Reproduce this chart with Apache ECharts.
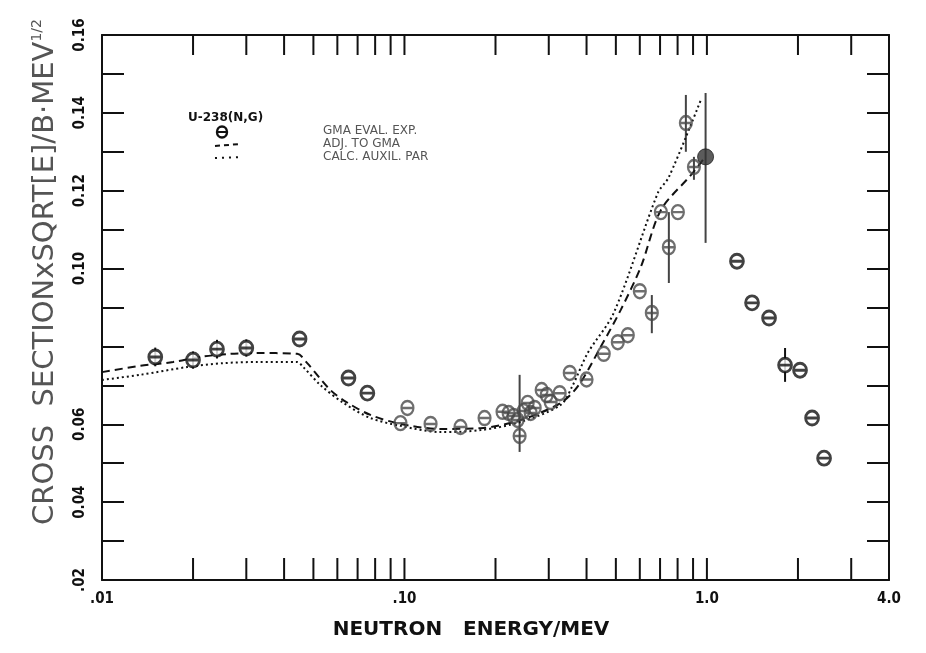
<!DOCTYPE html>
<html><head><meta charset="utf-8">
<script src="https://cdn.jsdelivr.net/npm/echarts@6/dist/echarts.min.js"></script>
<style>html,body{margin:0;padding:0;background:#fff}#c{width:926px;height:653px}</style>
</head><body><div id="c"></div>
<script>
// ---------------- data ----------------
const xMin = 0.01, xMax = 4.0, yMin = 0.02, yMax = 0.16;
const xTickValues = [0.02,0.03,0.04,0.05,0.06,0.07,0.08,0.09,0.10,0.2,0.3,0.4,0.5,0.6,0.7,0.8,0.9,1.0,2.0,3.0];
const xTickLabels = {'0.01':'.01','0.1':'.10','1':'1.0','4':'4.0'};
const yTickLabels = {2:'.02',4:'0.04',6:'0.06',10:'0.10',12:'0.12',14:'0.14',16:'0.16'};

// GMA evaluated experimental points (black, outer regions)
const expBlackE = [0.015,0.020,0.024,0.030,0.045,0.0653,0.0754,1.257,1.41,1.605,1.813,2.032,2.227,2.44];
const expBlackV = [0.0773,0.0765,0.0793,0.0796,0.0819,0.0719,0.0680,0.1019,0.0912,0.0873,0.0752,0.0739,0.0616,0.0513];
// GMA evaluated experimental points (grey, central region)
const expGreyE = [0.097,0.1023,0.122,0.1532,0.184,0.211,0.221,0.2296,0.2367,0.2403,0.2477,0.2555,0.2614,0.2695,0.2842,0.2953,0.3044,0.326,0.352,0.400,0.456,0.5074,0.5476,0.600,0.6575,0.7044,0.7485,0.8017,0.852,0.906];
const expGreyV = [0.0603,0.0642,0.0601,0.0593,0.0616,0.0632,0.0629,0.0621,0.0611,0.0570,0.0634,0.0655,0.0629,0.0642,0.0688,0.0675,0.0657,0.0680,0.0732,0.0715,0.0781,0.0811,0.0829,0.0942,0.0886,0.1145,0.1055,0.1145,0.1374,0.1261];
// filled point near 1 MeV
const expFilledE = [0.99];
const expFilledV = [0.1287];
// error bars
const errE  = [0.015,0.020,0.024,0.030,0.2403,0.6575,0.7485,0.852,0.906,0.99,1.813];
const errLo = [0.0749,0.0743,0.0769,0.0774,0.0529,0.0834,0.0963,0.1300,0.1228,0.1066,0.0709];
const errHi = [0.0797,0.0787,0.0817,0.0818,0.0727,0.0932,0.1145,0.1446,0.1287,0.1451,0.0796];
// ADJ. TO GMA (dashed)
const adjE = [0.01,0.01336,0.01718,0.0211,0.0265,0.0326,0.0442,0.0477,0.0569,0.0643,0.0772,0.097,0.1316,0.1786,0.242,0.3286,0.377,0.4457,0.519,0.6046,0.7041,0.885,0.97];
const adjV = [0.0734,0.0750,0.0760,0.0773,0.0781,0.0783,0.0781,0.0757,0.0688,0.0657,0.0624,0.0601,0.0588,0.0590,0.0611,0.0655,0.0701,0.0799,0.0894,0.1004,0.1150,0.1240,0.1279];
// CALC. AUXIL. PAR (dotted)
const calcE = [0.01,0.01336,0.0191,0.0252,0.0326,0.0442,0.0463,0.0527,0.0628,0.0772,0.097,0.1316,0.1786,0.242,0.3286,0.36,0.4036,0.492,0.688,0.7485,0.955];
const calcV = [0.0714,0.0727,0.0747,0.0757,0.0760,0.0760,0.0747,0.0701,0.0655,0.0616,0.0596,0.0580,0.0585,0.0606,0.0650,0.0700,0.0783,0.0886,0.1194,0.1235,0.1433];

// ---------------- chart ----------------
const zip = (a, b) => a.map((v, i) => [v, b[i]]);
const INK = '#111';
const NARROW = "'Liberation Sans Narrow','DejaVu Sans Condensed',sans-serif";
const WIDE = "'DejaVu Sans',sans-serif";
const thetaPath = 'path://M0,6.5A5,6.5 0 1,1 10,6.5A5,6.5 0 1,1 0,6.5ZM0,6.5L10,6.5';

const chart = echarts.init(document.getElementById('c'), null, {renderer: 'canvas'});

const axisBaseX = {
  type: 'log', logBase: 10, min: xMin, max: xMax,
  axisLine: {show: true, lineStyle: {color: INK, width: 2}},
  axisTick: {show: false}, splitLine: {show: false}, minorTick: {show: false}
};
const axisBaseY = {
  type: 'value', min: yMin, max: yMax, interval: 0.01,
  axisLine: {show: true, lineStyle: {color: INK, width: 2}},
  axisTick: {show: true, inside: true, length: 22, lineStyle: {color: INK, width: 2}},
  splitLine: {show: false}
};

const option = {
  backgroundColor: '#fff',
  animation: false,
  grid: {left: 102, right: 37, top: 35, bottom: 73, containLabel: false},
  xAxis: [
    Object.assign({}, axisBaseX, {
      position: 'bottom',
      axisLabel: {
        show: true, showMinLabel: true, showMaxLabel: true, margin: 12,
        color: INK, fontSize: 15, fontWeight: 'bold', fontFamily: NARROW,
        formatter: v => {
          for (const k in xTickLabels) { if (Math.abs(v - Number(k)) / Number(k) < 1e-6) return xTickLabels[k]; }
          return '';
        }
      }
    }),
    Object.assign({}, axisBaseX, {position: 'top', axisLabel: {show: false}})
  ],
  yAxis: [
    Object.assign({}, axisBaseY, {
      position: 'left',
      axisLabel: {
        show: true, rotate: 90, margin: 14, color: INK, fontSize: 15, fontWeight: 'bold', fontFamily: NARROW,
        formatter: v => yTickLabels[Math.round(v * 100)] || ''
      }
    }),
    Object.assign({}, axisBaseY, {position: 'right', axisLabel: {show: false}})
  ],
  visualMap: [{
    type: 'piecewise', show: false, dimension: 0, seriesIndex: [1, 2],
    pieces: [
      {lt: 0.058, color: '#111'},
      {gte: 0.058, lt: 0.37, color: '#8a8a8a'},
      {gte: 0.37, color: '#555'}
    ]
  }],
  series: [
    { // x-axis ticks (top and bottom), log-spaced
      type: 'custom', silent: true, clip: false, z: 5,
      data: xTickValues.map(v => [v, yMin]),
      encode: {x: 0, y: 1},
      renderItem: (params, api) => {
        const x = api.value(0);
        const b = api.coord([x, yMin]);
        const t = api.coord([x, yMax]);
        return {type: 'group', children: [
          {type: 'line', shape: {x1: b[0], y1: b[1], x2: b[0], y2: b[1] - 22}, style: {stroke: INK, lineWidth: 2}},
          {type: 'line', shape: {x1: t[0], y1: t[1], x2: t[0], y2: t[1] + 20}, style: {stroke: INK, lineWidth: 2}}
        ]};
      }
    },
    { // ADJ. TO GMA
      type: 'line', data: zip(adjE, adjV), showSymbol: false, smooth: 0.3, silent: true,
      lineStyle: {width: 2, type: [8, 5], color: INK}
    },
    { // CALC. AUXIL. PAR
      type: 'line', data: zip(calcE, calcV), showSymbol: false, smooth: 0.3, silent: true,
      lineStyle: {width: 2, type: [2, 3], color: INK}
    },
    { // error bars
      type: 'custom', silent: true, z: 3,
      data: errE.map((e, i) => [e, errLo[i], errHi[i]]),
      encode: {x: 0, y: [1, 2]},
      renderItem: (params, api) => {
        const x = api.value(0);
        const lo = api.coord([x, api.value(1)]);
        const hi = api.coord([x, api.value(2)]);
        const col = (x > 0.1 && x < 1.1) ? '#444' : INK;
        return {type: 'line', shape: {x1: lo[0], y1: lo[1], x2: hi[0], y2: hi[1]}, style: {stroke: col, lineWidth: 2}};
      }
    },
    {
      type: 'scatter', data: zip(expGreyE, expGreyV), symbol: thetaPath, symbolSize: [12, 14], silent: true, z: 4,
      itemStyle: {color: 'rgba(0,0,0,0)', borderColor: '#4a4a4a', borderWidth: 2.3}
    },
    {
      type: 'scatter', data: zip(expBlackE, expBlackV), symbol: thetaPath, symbolSize: [13, 14], silent: true, z: 4,
      itemStyle: {color: '#fff', borderColor: INK, borderWidth: 2.8}
    },
    {
      type: 'scatter', data: zip(expFilledE, expFilledV), symbol: 'circle', symbolSize: 16, silent: true, z: 4,
      itemStyle: {color: '#333', borderColor: '#222', borderWidth: 1}
    }
  ],
  graphic: [
    { // y-axis title
      type: 'text', x: 45, y: 272, rotation: Math.PI / 2,
      style: {
        text: '{a|CROSS  SECTIONxSQRT[E]/B·MEV}{s|1/2}',
        align: 'center', verticalAlign: 'middle',
        rich: {
          a: {fontSize: 29, fontFamily: WIDE, fill: '#555'},
          s: {fontSize: 14, fontFamily: WIDE, fill: '#555', verticalAlign: 'top'}
        }
      }
    },
    { // x-axis title
      type: 'text', x: 471, y: 630,
      style: {text: 'NEUTRON   ENERGY/MEV', align: 'center', verticalAlign: 'middle',
        fontSize: 20, fontWeight: 'bold', fontFamily: WIDE, fill: INK}
    },
    // legend
    {type: 'text', x: 188, y: 118, style: {text: 'U-238(N,G)', align: 'left', verticalAlign: 'middle',
      fontSize: 12, fontWeight: 'bold', fontFamily: WIDE, fill: INK}},
    {type: 'ellipse', shape: {cx: 222, cy: 132, rx: 5, ry: 5.5}, style: {fill: 'none', stroke: INK, lineWidth: 2.4}},
    {type: 'line', shape: {x1: 217, y1: 132, x2: 227, y2: 132}, style: {stroke: INK, lineWidth: 2}},
    {type: 'line', shape: {x1: 215, y1: 146, x2: 240, y2: 144}, style: {stroke: INK, lineWidth: 2, lineDash: [5, 4]}},
    {type: 'line', shape: {x1: 215, y1: 158, x2: 242, y2: 157}, style: {stroke: INK, lineWidth: 2, lineDash: [2, 5]}},
    {type: 'text', x: 323, y: 131, style: {text: 'GMA EVAL. EXP.', verticalAlign: 'middle',
      fontSize: 12, fontFamily: WIDE, fill: '#555'}},
    {type: 'text', x: 323, y: 144, style: {text: 'ADJ. TO GMA', verticalAlign: 'middle',
      fontSize: 12, fontFamily: WIDE, fill: '#555'}},
    {type: 'text', x: 323, y: 157, style: {text: 'CALC. AUXIL. PAR', verticalAlign: 'middle',
      fontSize: 12, fontFamily: WIDE, fill: '#555'}}
  ]
};
chart.setOption(option);
</script>
</body></html>
